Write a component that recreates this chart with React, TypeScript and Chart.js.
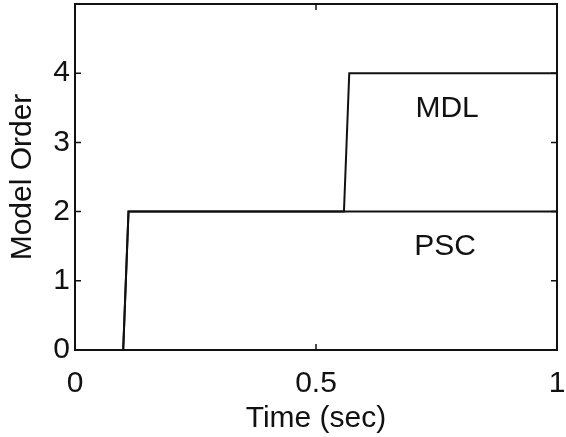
import { useEffect, useRef } from "react";
import { Chart, registerables } from "chart.js";

Chart.register(...registerables);

const pscTime = [0, 0.1, 0.111, 1];
const pscOrder = [0, 0, 2, 2];
const mdlTime = [0, 0.1, 0.111, 0.558, 0.569, 1];
const mdlOrder = [0, 0, 2, 2, 4, 4];
const xTickValues = [0, 0.5, 1];
const yTickValues = [0, 1, 2, 3, 4];
const labelNames = ["MDL", "PSC"];
const labelTime = [0.772, 0.768];
const labelOrder = [3.48, 1.49];

const FONT = '"Liberation Sans", Arial, Helvetica, sans-serif';
const INK = "#111111";

const framePlugin = {
  id: "frame",
  afterDatasetsDraw(chart: any) {
    const { ctx, chartArea, scales } = chart;
    const { left, right, top, bottom } = chartArea;
    const x = scales.x;
    const y = scales.y;
    ctx.save();
    ctx.strokeStyle = INK;
    ctx.lineWidth = 2;
    ctx.strokeRect(left, top, right - left, bottom - top);
    const len = 6;
    ctx.lineWidth = 1.5;
    ctx.beginPath();
    yTickValues.forEach((v) => {
      const py = y.getPixelForValue(v);
      ctx.moveTo(left, py);
      ctx.lineTo(left + len, py);
      ctx.moveTo(right, py);
      ctx.lineTo(right - len, py);
    });
    xTickValues.forEach((v) => {
      const px = x.getPixelForValue(v);
      ctx.moveTo(px, bottom);
      ctx.lineTo(px, bottom - len);
      ctx.moveTo(px, top);
      ctx.lineTo(px, top + len);
    });
    ctx.stroke();
    ctx.fillStyle = INK;
    ctx.font = `30px ${FONT}`;
    ctx.textAlign = "center";
    ctx.textBaseline = "middle";
    labelNames.forEach((t, i) => {
      ctx.fillText(t, x.getPixelForValue(labelTime[i]), y.getPixelForValue(labelOrder[i]));
    });
    ctx.restore();
  },
};

export default function App() {
  const ref = useRef<HTMLCanvasElement | null>(null);
  useEffect(() => {
    document.body.style.margin = "0";
    const canvas = ref.current;
    if (!canvas) return;
    const chart = new Chart(canvas, {
      type: "line",
      data: {
        datasets: [
          {
            label: "PSC",
            data: pscTime.map((t, i) => ({ x: t, y: pscOrder[i] })),
            borderColor: INK,
            borderWidth: 2,
            pointRadius: 0,
            fill: false,
            tension: 0,
          },
          {
            label: "MDL",
            data: mdlTime.map((t, i) => ({ x: t, y: mdlOrder[i] })),
            borderColor: INK,
            borderWidth: 2,
            pointRadius: 0,
            fill: false,
            tension: 0,
          },
        ],
      },
      options: {
        animation: false,
        responsive: false,
        maintainAspectRatio: false,
        layout: { padding: { top: 4, right: 9, left: 0, bottom: 0 } },
        plugins: {
          legend: { display: false },
          tooltip: { enabled: false },
        },
        scales: {
          x: {
            type: "linear",
            min: 0,
            max: 1,
            afterBuildTicks: (scale: any) => {
              scale.ticks = xTickValues.map((v) => ({ value: v }));
            },
            afterFit: (scale: any) => {
              scale.height = 87;
              scale.paddingLeft = 0;
              scale.paddingRight = 0;
            },
            grid: { display: false, drawTicks: false },
            border: { display: false },
            ticks: {
              color: INK,
              font: { family: FONT, size: 30 },
              padding: 16,
              maxRotation: 0,
              autoSkip: false,
              callback: (v: any) => String(v),
            },
            title: {
              display: true,
              text: "Time (sec)",
              color: INK,
              font: { family: FONT, size: 30 },
              padding: { top: 8, bottom: 0 },
            },
          },
          y: {
            type: "linear",
            min: 0,
            max: 5,
            afterBuildTicks: (scale: any) => {
              scale.ticks = yTickValues.map((v) => ({ value: v }));
            },
            afterFit: (scale: any) => {
              scale.width = 75;
              scale.paddingTop = 0;
              scale.paddingBottom = 0;
            },
            grid: { display: false, drawTicks: false },
            border: { display: false },
            ticks: {
              color: INK,
              font: { family: FONT, size: 30 },
              padding: 5,
              autoSkip: false,
              callback: (v: any) => String(v),
            },
            title: {
              display: true,
              text: "Model Order",
              color: INK,
              font: { family: FONT, size: 30 },
              padding: { top: 5, bottom: 0 },
            },
          },
        },
      },
      plugins: [framePlugin],
    });
    return () => chart.destroy();
  }, []);
  return (
    <div style={{ position: "absolute", left: 0, top: 0, width: 566, height: 437, background: "#fff" }}>
      <canvas ref={ref} width={566} height={437} style={{ display: "block", width: 566, height: 437 }} />
    </div>
  );
}
